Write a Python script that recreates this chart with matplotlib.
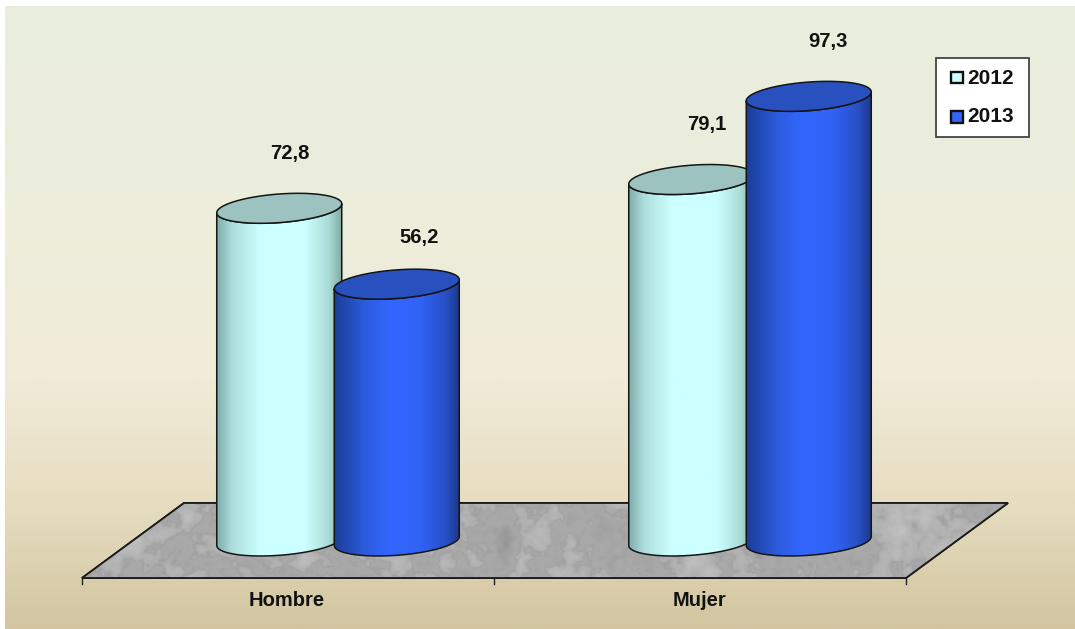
import numpy as np
import matplotlib
matplotlib.use('Agg')
import matplotlib.pyplot as plt
from matplotlib.colors import LinearSegmentedColormap
from matplotlib.patches import PathPatch, Polygon, Rectangle
from matplotlib.path import Path

categories = ['Hombre', 'Mujer']
years = ['2012', '2013']
values_2012 = [72.8, 79.1]
values_2013 = [56.2, 97.3]
value_labels_2012 = ['72,8', '79,1']
value_labels_2013 = ['56,2', '97,3']

plt.rcParams['font.family'] = ['Liberation Sans', 'DejaVu Sans']

W, H = 1075, 629
px_val = 4.57      # pixels per unit of value
base_py = 541      # pixel row of value 0
group_px = 412     # pixels between groups
first_px = 338     # pixel column of group 0

fig = plt.figure(figsize=(W / 100, H / 100), dpi=100)
ax = fig.add_axes([0, 0, 1, 1])
xlim = (-first_px / group_px, (W - first_px) / group_px)
ylim = ((base_py - H) / px_val, base_py / px_val)


def X(px):
    return (px - first_px) / group_px


def Y(py):
    return (base_py - py) / px_val


# background gradient, white margin on top and left
bg_cmap = LinearSegmentedColormap.from_list('bg', [
    (0.0, '#E9EDDC'), (0.3, '#ECEEDC'), (0.6, '#F0EBD8'),
    (0.78, '#E8DFC3'), (1.0, '#D2C5A0')])
ax.imshow(np.linspace(0, 1, 512).reshape(-1, 1), cmap=bg_cmap, aspect='auto',
          extent=(X(5), X(W), Y(H), Y(6)), zorder=0)

# marble floor
rng = np.random.default_rng(3)
nx, ny = 930, 76
marble = np.zeros((ny, nx))
for step, amp in [(40, 0.7), (16, 0.8), (7, 0.55), (3, 0.25)]:
    coarse = rng.normal(size=(ny // step + 2, nx // step + 2))
    xi = np.linspace(0, coarse.shape[1] - 1.001, nx)
    yi = np.linspace(0, coarse.shape[0] - 1.001, ny)
    x0, y0 = xi.astype(int), yi.astype(int)
    fx, fy = xi - x0, (yi - y0)[:, None]
    layer = (coarse[y0][:, x0] * (1 - fx) + coarse[y0][:, x0 + 1] * fx) * (1 - fy) \
        + (coarse[y0 + 1][:, x0] * (1 - fx) + coarse[y0 + 1][:, x0 + 1] * fx) * fy
    marble += amp * layer
veins = np.exp(-np.abs(marble) * 4)
gray = 174 + 7 * marble - 14 * veins
floor_pts = [(X(82), Y(578)), (X(906), Y(578)), (X(1008), Y(503)), (X(184), Y(503))]
floor = Polygon(floor_pts, closed=True, fc='#A9A9AD', ec='#1A1A1A', lw=1.3, zorder=2)
ax.add_patch(floor)
im = ax.imshow(np.clip(gray, 130, 205), cmap='gray', vmin=0, vmax=255, aspect='auto',
               extent=(X(82), X(1008), Y(578), Y(503)), zorder=2.1, interpolation='bilinear')
im.set_clip_path(floor)
ax.add_patch(Polygon(floor_pts, closed=True, fc='none', ec='#1A1A1A', lw=1.3, zorder=2.2))

light_cmap = LinearSegmentedColormap.from_list('light', [
    (0.0, '#7FAFAD'), (0.12, '#ADDEDB'), (0.35, '#CCFFFF'), (0.7, '#CCFFFF'),
    (0.9, '#AADAD6'), (1.0, '#80A8A3')])
blue_cmap = LinearSegmentedColormap.from_list('blue', [
    (0.0, '#1B3D99'), (0.25, '#2C5CDC'), (0.45, '#3366FF'), (0.7, '#3062F4'),
    (0.9, '#2850C4'), (1.0, '#1C3A8E')])

half_w = 62.5 / group_px
tilt = 4.5 / px_val
half_h = 14.3 / px_val
t = np.linspace(0, 2 * np.pi, 121)


def cylinder(xc, val, cmap, top_color, z):
    # body: front half of the base ellipse, back up along the front half of the top
    t_low = np.linspace(np.pi, 2 * np.pi, 60)
    bx = xc + half_w * np.cos(t_low)
    by = tilt * np.cos(t_low) + half_h * np.sin(t_low)
    tx = xc + half_w * np.cos(t_low[::-1])
    ty = val + tilt * np.cos(t_low[::-1]) + half_h * np.sin(t_low[::-1])
    body = np.column_stack([np.r_[bx, tx], np.r_[by, ty]])
    patch = Polygon(body, closed=True, fc='none', ec='#151515', lw=1.1, zorder=z + 0.2)
    ax.add_patch(patch)
    grad = ax.imshow(np.linspace(0, 1, 256).reshape(1, -1), cmap=cmap, aspect='auto',
                     extent=(xc - half_w, xc + half_w, -half_h - tilt, val + half_h + tilt),
                     zorder=z + 0.1)
    grad.set_clip_path(PathPatch(Path(body), transform=ax.transData))
    top = np.column_stack([xc + half_w * np.cos(t),
                           val + tilt * np.cos(t) + half_h * np.sin(t)])
    ax.add_patch(Polygon(top, closed=True, fc=top_color, ec='#151515', lw=1.1, zorder=z + 0.3))


bar_off = 58.75 / group_px
label_dx_2012 = [10.5, 16]
label_dx_2013 = [22.5, 19]
label_dy_2013 = [47, 55]
for i in range(len(categories)):
    cylinder(i - bar_off, values_2012[i], light_cmap, '#9DC3C0', 3 + 2 * i)
    cylinder(i + bar_off, values_2013[i], blue_cmap, '#2850BE', 4 + 2 * i)
    ax.text(i - bar_off + label_dx_2012[i] / group_px, values_2012[i] + 55 / px_val,
            value_labels_2012[i], ha='center', va='center', fontsize=14.5,
            fontweight='bold', color='#111111', zorder=20)
    ax.text(i + bar_off + label_dx_2013[i] / group_px, values_2013[i] + label_dy_2013[i] / px_val,
            value_labels_2013[i], ha='center', va='center', fontsize=14.5,
            fontweight='bold', color='#111111', zorder=20)
    ax.text(i + (287 - first_px) / group_px, Y(600), categories[i], ha='center', va='center',
            fontsize=14.5, fontweight='bold', color='#111111', zorder=20)

# category ticks under the front edge of the floor
for k in range(len(categories) + 1):
    tick_x = X(82) + k
    ax.plot([tick_x, tick_x], [Y(578), Y(584)], color='#222222', lw=1, zorder=3)

ax.set_xlim(*xlim)
ax.set_ylim(*ylim)
ax.axis('off')

# legend box
ax.add_patch(Rectangle((X(936), Y(137)), 93 / group_px, 79 / px_val, fc='white',
                       ec='#444444', lw=1.3, zorder=30))
legend_colors = ['#CCFFFF', '#3366FF']
for n, year in enumerate(years):
    row = 78 + 39 * n
    ax.add_patch(Rectangle((X(950.5), Y(row + 5.5)), 12 / group_px, 11 / px_val,
                           fc=legend_colors[n], ec='#111111', lw=1.7, zorder=31))
    ax.text(X(967), Y(row), year, ha='left', va='center', fontsize=15,
            fontweight='bold', color='#111111', zorder=31)

fig.savefig('out.png', dpi=100)
